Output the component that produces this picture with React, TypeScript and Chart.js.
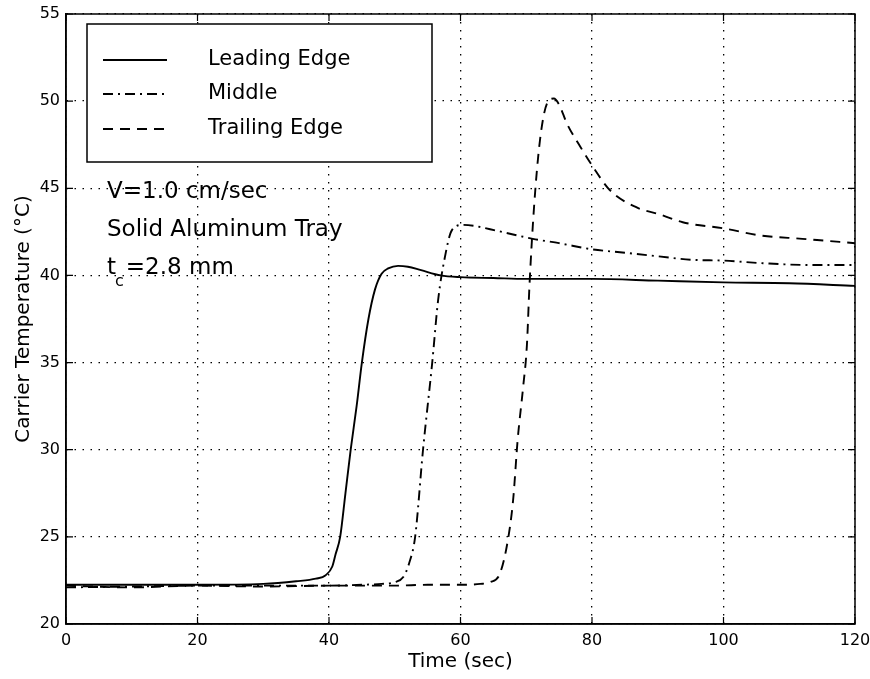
import React, { useEffect, useRef } from "react";
import { Chart, registerables } from "chart.js";

Chart.register(...registerables);

const FONT = '"DejaVu Sans", "Liberation Sans", Arial, sans-serif';

// Time axis (sec) and temperatures (°C)
const leadingTime = [0, 10, 20, 30, 35, 38, 39.5, 40.5, 41, 41.7, 42.5, 43.3, 44.2, 45, 46, 47, 48, 49, 50.5, 52, 54, 57, 60, 65, 70, 80, 90, 100, 110, 120];
const leadingTemp = [22.25, 22.25, 22.25, 22.3, 22.45, 22.6, 22.8, 23.3, 24, 25, 27.5, 30, 32.5, 35, 37.5, 39.2, 40.1, 40.4, 40.55, 40.5, 40.3, 40.0, 39.9, 39.85, 39.8, 39.8, 39.7, 39.6, 39.55, 39.4];

const middleTime = [0, 10, 20, 30, 40, 45, 48, 50, 51.3, 52.2, 53.1, 54.3, 55.7, 56.6, 57.6, 58.7, 60.4, 62, 64.5, 68, 71, 75, 80, 85, 90, 95, 100, 106, 113, 120];
const middleTemp = [22.1, 22.15, 22.2, 22.2, 22.2, 22.25, 22.3, 22.4, 22.7, 23.5, 25, 30, 35, 38.6, 41.0, 42.6, 42.9, 42.85, 42.65, 42.35, 42.1, 41.85, 41.5, 41.3, 41.1, 40.9, 40.85, 40.7, 40.6, 40.6];

const trailingTime = [0, 10, 20, 30, 40, 50, 55, 60, 63, 64.5, 66, 67.2, 68, 68.7, 69.5, 70.1, 70.5, 71.2, 72.1, 73.2, 74.2, 75, 76.2, 78.2, 80.2, 82.7, 86.8, 90.3, 93.8, 100, 105.5, 112, 120];
const trailingTemp = [22.2, 22.1, 22.2, 22.15, 22.2, 22.2, 22.25, 22.25, 22.3, 22.4, 22.9, 24.8, 27.1, 30.6, 33.5, 36, 39.5, 44, 47.8, 49.9, 50.15, 49.8, 48.7, 47.4, 46.2, 44.9, 43.9, 43.5, 43.05, 42.7, 42.3, 42.1, 41.85];

const seriesLabels = ["Leading Edge", "Middle", "Trailing Edge"];
const seriesDashes: number[][] = [[], [10, 5, 2, 5], [10, 7]];

const xTicks = [0, 20, 40, 60, 80, 100, 120];
const yTicks = [20, 25, 30, 35, 40, 45, 50, 55];

const xTitle = "Time (sec)";
const yTitle = "Carrier Temperature (°C)";
const noteLine1 = "V=1.0 cm/sec";
const noteLine2 = "Solid Aluminum Tray";
const noteLine3Main = "t";
const noteLine3Sub = "c";
const noteLine3Rest = "=2.8 mm";

const toPoints = (xs: number[], ys: number[]) => xs.map((x, i) => ({ x, y: ys[i] }));

const framePlugin = {
  id: "frame",
  afterDatasetsDraw(chart: any) {
    const { ctx, chartArea: ca, scales } = chart;
    ctx.save();
    ctx.strokeStyle = "#000";
    ctx.lineWidth = 1.5;
    ctx.setLineDash([]);
    ctx.strokeRect(ca.left, ca.top, ca.right - ca.left, ca.bottom - ca.top);
    const tl = 7;
    ctx.lineWidth = 1.2;
    ctx.beginPath();
    xTicks.forEach((v) => {
      const px = scales.x.getPixelForValue(v);
      ctx.moveTo(px, ca.bottom);
      ctx.lineTo(px, ca.bottom - tl);
      ctx.moveTo(px, ca.top);
      ctx.lineTo(px, ca.top + tl);
    });
    yTicks.forEach((v) => {
      const py = scales.y.getPixelForValue(v);
      ctx.moveTo(ca.left, py);
      ctx.lineTo(ca.left + tl, py);
      ctx.moveTo(ca.right, py);
      ctx.lineTo(ca.right - tl, py);
    });
    ctx.stroke();
    ctx.restore();
  },
};

const overlayPlugin = {
  id: "overlay",
  afterDraw(chart: any) {
    const { ctx, chartArea: ca } = chart;
    ctx.save();
    // Legend box
    const bx = ca.left + 21;
    const by = ca.top + 10;
    const bw = 345;
    const bh = 138;
    ctx.fillStyle = "#fff";
    ctx.fillRect(bx, by, bw, bh);
    ctx.strokeStyle = "#000";
    ctx.lineWidth = 1.5;
    ctx.setLineDash([]);
    ctx.strokeRect(bx, by, bw, bh);
    const rows = [36, 70, 105];
    ctx.font = `21px ${FONT}`;
    ctx.fillStyle = "#000";
    ctx.textBaseline = "middle";
    ctx.textAlign = "left";
    chart.data.datasets.forEach((ds: any, i: number) => {
      const y = by + rows[i];
      ctx.save();
      ctx.lineWidth = 1.8;
      ctx.setLineDash(ds.borderDash || []);
      ctx.beginPath();
      ctx.moveTo(bx + 16, y);
      ctx.lineTo(bx + 80, y);
      ctx.stroke();
      ctx.restore();
      ctx.fillText(ds.label, bx + 121, y);
    });
    // Annotation text
    const tx = ca.left + 41;
    ctx.font = `23px ${FONT}`;
    ctx.fillText(noteLine1, tx, ca.top + 178);
    ctx.fillText(noteLine2, tx, ca.top + 216);
    const y3 = ca.top + 254;
    ctx.fillText(noteLine3Main, tx, y3);
    const tw = ctx.measureText(noteLine3Main).width;
    ctx.font = `16px ${FONT}`;
    ctx.fillText(noteLine3Sub, tx + tw - 1, y3 + 14);
    const cw = ctx.measureText(noteLine3Sub).width;
    ctx.font = `23px ${FONT}`;
    ctx.fillText(noteLine3Rest, tx + tw + cw + 1, y3);
    ctx.restore();
  },
};

export default function App() {
  const canvasRef = useRef<HTMLCanvasElement | null>(null);

  useEffect(() => {
    if (!canvasRef.current) return;
    const mk = (label: string, xs: number[], ys: number[], dash: number[]) => ({
      label,
      data: toPoints(xs, ys),
      borderColor: "#000",
      backgroundColor: "#000",
      borderWidth: 1.9,
      borderDash: dash,
      pointRadius: 0,
      fill: false,
      cubicInterpolationMode: "monotone" as const,
    });
    const chart = new Chart(canvasRef.current, {
      type: "line",
      data: {
        datasets: [
          mk(seriesLabels[0], leadingTime, leadingTemp, seriesDashes[0]),
          mk(seriesLabels[1], middleTime, middleTemp, seriesDashes[1]),
          mk(seriesLabels[2], trailingTime, trailingTemp, seriesDashes[2]),
        ],
      },
      options: {
        animation: false,
        responsive: false,
        layout: { padding: { top: 14, right: 15, left: 0, bottom: 0 } },
        plugins: { legend: { display: false }, tooltip: { enabled: false } },
        scales: {
          x: {
            type: "linear",
            min: 0,
            max: 120,
            afterBuildTicks: (s: any) => {
              s.ticks = xTicks.map((v) => ({ value: v }));
            },
            afterFit: (s: any) => {
              s.height = 55;
              s.paddingLeft = 0;
              s.paddingRight = 0;
            },
            ticks: { color: "#000", font: { family: FONT, size: 16 }, padding: 7, maxRotation: 0 },
            grid: { color: "#000", lineWidth: 1.3, drawTicks: false },
            border: { display: true, color: "#000", width: 1.5, dash: [1.5, 6.5] },
            title: { display: true, text: xTitle, color: "#000", font: { family: FONT, size: 20 }, padding: { top: 0, bottom: 5 } },
          },
          y: {
            type: "linear",
            min: 20,
            max: 55,
            afterBuildTicks: (s: any) => {
              s.ticks = yTicks.map((v) => ({ value: v }));
            },
            afterFit: (s: any) => {
              s.width = 66;
              s.paddingTop = 0;
              s.paddingBottom = 0;
            },
            ticks: { color: "#000", font: { family: FONT, size: 16 }, padding: 6 },
            grid: { color: "#000", lineWidth: 1.3, drawTicks: false },
            border: { display: true, color: "#000", width: 1.5, dash: [1.5, 6.5] },
            title: { display: true, text: yTitle, color: "#000", font: { family: FONT, size: 20 }, padding: { top: 12, bottom: 0 } },
          },
        },
      },
      plugins: [framePlugin, overlayPlugin],
    });
    return () => chart.destroy();
  }, []);

  return (
    <div style={{ position: "absolute", left: 0, top: 0, width: 870, height: 679, background: "#fff" }}>
      <canvas ref={canvasRef} width={870} height={679} style={{ display: "block" }} />
    </div>
  );
}
